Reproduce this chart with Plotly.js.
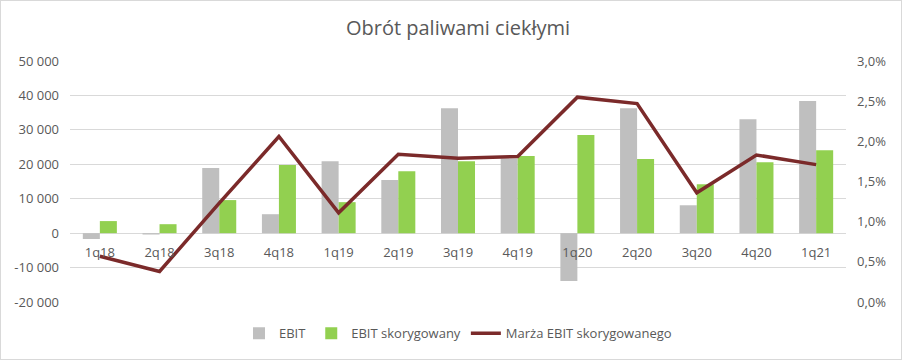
<!DOCTYPE html>
<html>
<head>
<meta charset="utf-8">
<script src="https://cdn.plot.ly/plotly-3.0.1.min.js"></script>
<style>
html,body{margin:0;padding:0;background:#fff;}
#chart{width:900px;height:358px;border:1px solid #d9d9d9;}
</style>
</head>
<body>
<div id="chart"></div>
<script>
const categories = ['1q18','2q18','3q18','4q18','1q19','2q19','3q19','4q19','1q20','2q20','3q20','4q20','1q21'];
const ebit = [-1700, -400, 18900, 5500, 20900, 15400, 36300, 21700, -13900, 36300, 8100, 33100, 38400];
const ebitAdj = [3500, 2600, 9600, 19800, 9000, 18000, 20900, 22400, 28500, 21500, 14200, 20600, 24100];
const margin = [0.0057, 0.0038, 0.0123, 0.0206, 0.0111, 0.0184, 0.0179, 0.0181, 0.0255, 0.0247, 0.0136, 0.0183, 0.0171];
const leftTickVals = [-20000, -10000, 0, 10000, 20000, 30000, 40000, 50000];
const leftTickText = ['-20 000', '-10 000', '0', '10 000', '20 000', '30 000', '40 000', '50 000'];
const rightTickVals = [0, 0.005, 0.01, 0.015, 0.02, 0.025, 0.03];
const rightTickText = ['0,0%', '0,5%', '1,0%', '1,5%', '2,0%', '2,5%', '3,0%'];

const txt = '#595959';
const traces = [
  {type:'bar', name:'EBIT', x:categories, y:ebit, marker:{color:'#BFBFBF'}, yaxis:'y'},
  {type:'bar', name:'EBIT skorygowany', x:categories, y:ebitAdj, marker:{color:'#92D050'}, yaxis:'y'},
  {type:'scatter', mode:'lines', name:'Marża EBIT skorygowanego', x:categories, y:margin, yaxis:'y2',
   line:{color:'#7B2A2A', width:3.5}}
];
const layout = {
  width:900, height:358,
  margin:{l:69, r:55, t:60, b:56},
  paper_bgcolor:'#fff', plot_bgcolor:'#fff',
  font:{family:'"Open Sans", sans-serif', size:13, color:txt},
  title:{text:'Obrót paliwami ciekłymi', font:{size:20, color:txt}, x:0.5, xanchor:'center', xref:'paper',
         y:1 - 27/358, yref:'container', yanchor:'middle'},
  barmode:'group', bargap:0.43, bargroupgap:0,
  showlegend:true,
  legend:{orientation:'h', x:0.5, xanchor:'center', y:-0.125, yanchor:'middle', font:{size:13, color:txt}, itemwidth:30, traceorder:'normal'},
  xaxis:{type:'category', anchor:'free', position:(0 - (-20000))/70000, showline:false, ticks:'', showgrid:false, zeroline:false,
         ticklabelstandoff:10, tickfont:{size:13, color:txt}},
  yaxis:{range:[-20000, 50000], tickvals:leftTickVals, ticktext:leftTickText, showgrid:true, gridcolor:'#d9d9d9', gridwidth:1,
         zeroline:false, showline:false, ticks:'', ticklabelstandoff:10, tickfont:{size:13, color:txt}},
  yaxis2:{range:[0, 0.03], overlaying:'y', side:'right', tickvals:rightTickVals, ticktext:rightTickText, showgrid:false,
          zeroline:false, showline:false, ticks:'', ticklabelstandoff:10, tickfont:{size:13, color:txt}}
};
Plotly.newPlot('chart', traces, layout, {staticPlot:true, displayModeBar:false});
</script>
</body>
</html>
